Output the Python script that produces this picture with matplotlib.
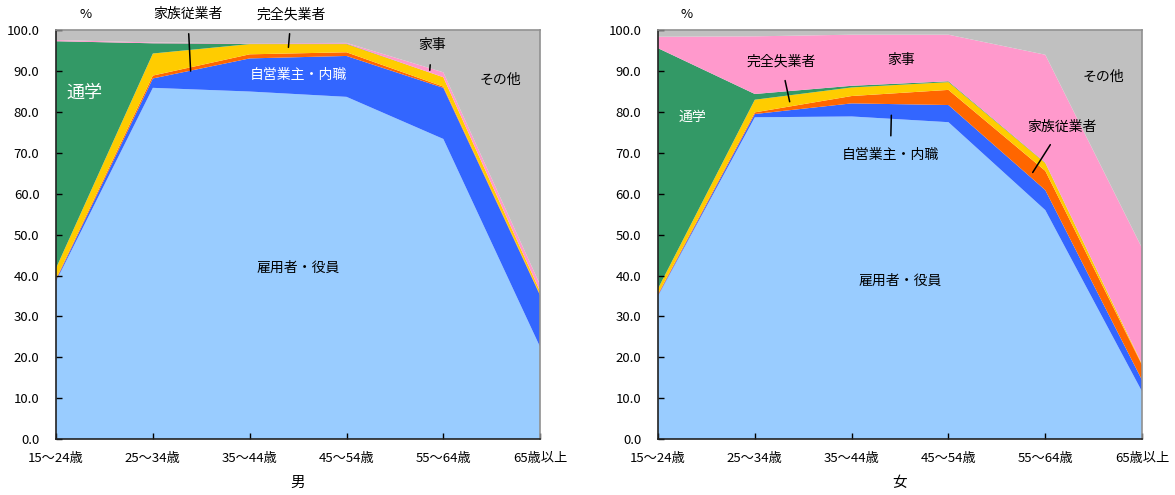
import matplotlib

matplotlib.use("Agg")
import matplotlib.pyplot as plt

plt.rcParams["font.family"] = ["Noto Sans CJK JP", "DejaVu Sans"]

ages = ["15～24歳", "25～34歳", "35～44歳", "45～54歳", "55～64歳", "65歳以上"]
layers = ["雇用者・役員", "自営業主・内職", "家族従業者", "完全失業者", "通学", "家事", "その他"]
colors = ["#99CCFF", "#3366FF", "#FF6600", "#FFCC00", "#339966", "#FF99CC", "#C0C0C0"]

# 男
emp_m = [38.6, 85.9, 85.0, 83.7, 73.4, 22.5]
self_m = [0.3, 2.3, 8.1, 10.0, 12.5, 12.6]
family_m = [0.3, 0.7, 1.0, 0.9, 0.3, 0.2]
unemp_m = [2.6, 5.4, 2.5, 2.0, 2.3, 0.8]
school_m = [55.5, 2.5, 0.1, 0.1, 0.0, 0.0]
house_m = [0.3, 0.2, 0.1, 0.2, 1.2, 1.6]
other_m = [2.4, 3.0, 3.2, 3.1, 10.3, 62.3]

# 女
emp_w = [35.0, 78.7, 78.9, 77.5, 56.0, 11.6]
self_w = [0.2, 0.8, 3.2, 4.2, 4.9, 2.8]
family_w = [0.3, 0.4, 1.8, 3.7, 4.7, 3.7]
unemp_w = [1.3, 3.1, 2.1, 1.9, 1.9, 0.2]
school_w = [58.8, 1.4, 0.4, 0.2, 0.1, 0.0]
house_w = [2.8, 14.1, 12.5, 11.4, 26.4, 28.4]
other_w = [1.6, 1.5, 1.1, 1.1, 6.0, 53.3]

men = [emp_m, self_m, family_m, unemp_m, school_m, house_m, other_m]
women = [emp_w, self_w, family_w, unemp_w, school_w, house_w, other_w]

FS = 10
LINE = dict(arrowstyle="-", color="black", lw=1.1, shrinkA=7, shrinkB=0)


def draw_panel(ax, series, xlabel):
    x = range(len(ages))
    ax.stackplot(x, *series, colors=colors, linewidth=0)
    ax.set_xlim(0, len(ages) - 1)
    ax.set_ylim(0, 100)
    ax.set_xticks(list(x))
    ax.set_xticklabels(ages, fontsize=9.5)
    ax.set_yticks(range(0, 101, 10))
    ax.set_yticklabels([f"{v:.1f}" for v in range(0, 101, 10)], fontsize=9.5)
    ax.tick_params(direction="in", length=4, width=1, colors="black")
    ax.tick_params(axis="x", pad=9)
    ax.tick_params(axis="y", pad=12)
    for side in ["top", "right"]:
        ax.spines[side].set_color("#909090")
        ax.spines[side].set_linewidth(1.2)
    for side in ["left", "bottom"]:
        ax.spines[side].set_color("#222222")
        ax.spines[side].set_linewidth(1.2)
    ax.set_xlabel(xlabel, fontsize=10.5, labelpad=8)
    ax.text(0.3, 103.8, "%", fontsize=9.5, ha="center", va="center", clip_on=False)


fig = plt.figure(figsize=(11.75, 4.95), dpi=100)
ax1 = fig.add_axes([0.0477, 0.113, 0.412, 0.826])
ax2 = fig.add_axes([0.560, 0.113, 0.412, 0.826])

draw_panel(ax1, men, "男")
draw_panel(ax2, women, "女")

# 男 labels
ax1.text(0.29, 84.8, "通学", color="white", fontsize=13, ha="center", va="center")
ax1.text(2.5, 89.0, "自営業主・内職", color="white", fontsize=FS, ha="center", va="center")
ax1.text(2.5, 42.0, "雇用者・役員", color="black", fontsize=FS, ha="center", va="center")
ax1.text(4.59, 87.8, "その他", color="black", fontsize=FS, ha="center", va="center")
ax1.annotate("家族従業者", xy=(1.39, 90.0), xytext=(1.36, 103.9), fontsize=FS,
             ha="center", va="center", annotation_clip=False, arrowprops=LINE)
ax1.annotate("完全失業者", xy=(2.40, 95.8), xytext=(2.43, 103.9), fontsize=FS,
             ha="center", va="center", annotation_clip=False, arrowprops=LINE)
ax1.annotate("家事", xy=(3.86, 90.2), xytext=(3.88, 96.3), fontsize=FS,
             ha="center", va="center", arrowprops=LINE)

# 女 labels
ax2.text(0.36, 78.7, "通学", color="white", fontsize=FS, ha="center", va="center")
ax2.text(2.51, 92.7, "家事", color="black", fontsize=FS, ha="center", va="center")
ax2.text(4.6, 88.6, "その他", color="black", fontsize=FS, ha="center", va="center")
ax2.text(2.5, 38.6, "雇用者・役員", color="black", fontsize=FS, ha="center", va="center")
ax2.annotate("完全失業者", xy=(1.36, 82.5), xytext=(1.27, 92.4), fontsize=FS,
             ha="center", va="center", arrowprops=LINE)
ax2.annotate("自営業主・内職", xy=(2.41, 79.2), xytext=(2.40, 69.4), fontsize=FS,
             ha="center", va="center", arrowprops=LINE)
ax2.annotate("家族従業者", xy=(3.87, 65.2), xytext=(4.17, 76.4), fontsize=FS,
             ha="center", va="center", arrowprops=LINE)

fig.savefig("out.png", dpi=100)
plt.close(fig)
